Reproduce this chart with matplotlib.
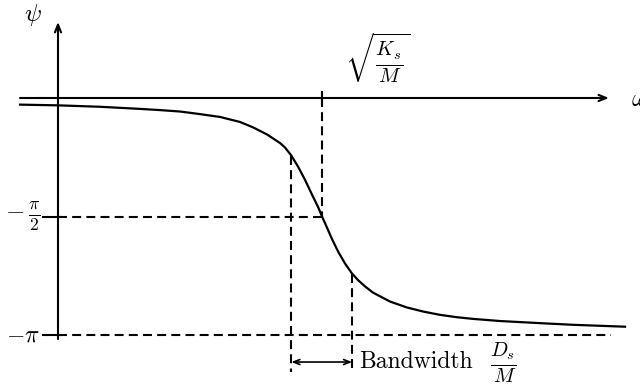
import matplotlib
matplotlib.use("Agg")
import matplotlib.pyplot as plt
import numpy as np

plt.rcParams['mathtext.fontset'] = 'cm'
plt.rcParams['font.family'] = ['cmr10', 'DejaVu Serif']

# phase curve (omega in units of sqrt(Ks/M), psi in units of pi)
omega = [-0.144, 0.0, 0.159, 0.311, 0.386, 0.462, 0.538, 0.614, 0.689, 0.739,
         0.792, 0.841, 0.860, 0.884, 0.910, 0.936, 0.961, 0.986, 1.0, 1.011,
         1.037, 1.062, 1.087, 1.114, 1.138, 1.163, 1.193, 1.258, 1.322, 1.383,
         1.447, 1.511, 1.572, 1.674, 1.826, 1.951, 2.148]
psi_pi = [-0.028, -0.031, -0.037, -0.046, -0.051, -0.057, -0.068, -0.080, -0.101, -0.124,
          -0.154, -0.190, -0.209, -0.243, -0.291, -0.346, -0.405, -0.462, -0.5, -0.527,
          -0.593, -0.650, -0.698, -0.741, -0.770, -0.795, -0.821, -0.859, -0.884, -0.901,
          -0.915, -0.925, -0.932, -0.941, -0.950, -0.957, -0.965]
psi = np.array(psi_pi) * np.pi

w0 = 1.0          # sqrt(Ks/M)
w1, w2 = 0.884, 1.114   # band edges
psi_w1, psi_w2 = -0.243 * np.pi, -0.741 * np.pi

fig = plt.figure(figsize=(6.4, 3.85), dpi=100)
ax = fig.add_axes([0, 0, 1, 1])
ax.set_xlim(-58 / 264, (640 - 58) / 264)
ax.set_ylim(-(385 - 98) / 237 * np.pi, 98 / 237 * np.pi)
ax.axis('off')

lw = 1.5
dash = (4.3, 2.5)

# axes with arrows
ax.annotate('', xy=(2.087, 0), xytext=(-0.144, 0),
            arrowprops=dict(arrowstyle='->,head_length=0.55,head_width=0.22', lw=lw, color='black',
                            shrinkA=0, shrinkB=0))
ax.annotate('', xy=(0, 0.321 * np.pi), xytext=(0, -1.017 * np.pi),
            arrowprops=dict(arrowstyle='->,head_length=0.55,head_width=0.22', lw=lw, color='black',
                            shrinkA=0, shrinkB=0))

# curve
ax.plot(omega, psi, color='black', lw=1.6, solid_joinstyle='round')

# dashed guides
ax.plot([0, w0], [-np.pi / 2, -np.pi / 2], color='black', lw=lw, dashes=dash)
ax.plot([w0, w0], [0, -np.pi / 2], color='black', lw=lw, dashes=dash)
ax.plot([0, 2.095], [-np.pi, -np.pi], color='black', lw=lw, dashes=dash)
ax.plot([w1, w1], [psi_w1, -1.156 * np.pi], color='black', lw=lw, dashes=dash)
ax.plot([w2, w2], [psi_w2, -1.156 * np.pi], color='black', lw=lw, dashes=dash)

# ticks
for yv in [-np.pi / 2, -np.pi]:
    ax.plot([-0.057, 0.012], [yv, yv], color='black', lw=lw)
ax.plot([w0, w0], [0.025 * np.pi, -0.025 * np.pi], color='black', lw=lw)

# bandwidth arrow
ax.annotate('', xy=(w2, -1.114 * np.pi), xytext=(w1, -1.114 * np.pi),
            arrowprops=dict(arrowstyle='<->,head_length=0.45,head_width=0.18', lw=1.2, color='black',
                            shrinkA=0, shrinkB=0))

ax.text(-0.095, 0.35 * np.pi, r'$\psi$', fontsize=18, ha='center', va='center')
ax.text(2.17, -0.01 * np.pi, r'$\omega$', fontsize=18, ha='left', va='center')
ax.text(1.21, 0.17 * np.pi, r'$\sqrt{\frac{K_s}{M}}$', fontsize=21, ha='center', va='center')
ax.text(-0.068, -np.pi / 2, r'$-\,\frac{\pi}{2}$', fontsize=18, ha='right', va='center')
ax.text(-0.068, -np.pi, r'$-\pi$', fontsize=17, ha='right', va='center')
ax.text(1.14, -1.114 * np.pi, 'Bandwidth', fontsize=17, ha='left', va='center')
ax.text(1.635, -1.118 * np.pi, r'$\frac{D_s}{M}$', fontsize=21, ha='left', va='center')

fig.savefig('out.png', dpi=100)
